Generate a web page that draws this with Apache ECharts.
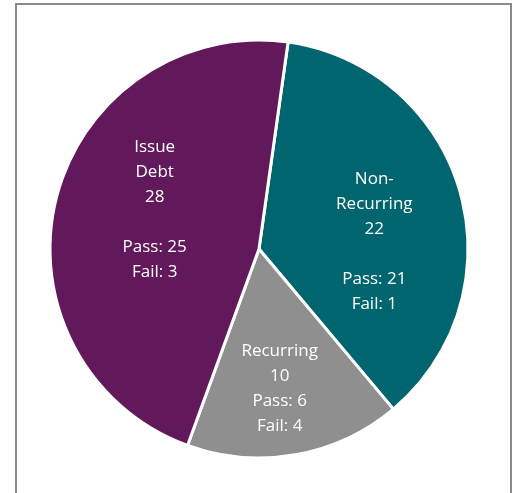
<!DOCTYPE html>
<html lang="en">

<head>
    <meta charset="UTF-8">
    <title>Pie</title>
    <script src="https://cdn.jsdelivr.net/npm/echarts@6/dist/echarts.min.js"></script>
    <style>
        body {
            margin: 0;
            background: #fff;
        }

        #frame {
            position: absolute;
            left: 15px;
            top: 3px;
            width: 493px;
            height: 520px;
            border: 2px solid #8a8a8a;
        }

        #app {
            position: absolute;
            left: 0;
            top: 0;
            width: 517px;
            height: 493px;
        }
    </style>
</head>

<body>
    <div id="frame"></div>
    <div id="app"></div>
    <script>
        let categories = ['Non-Recurring', 'Recurring', 'Issue Debt']
        let totals = [22, 10, 28]
        let passes = [21, 6, 25]
        let fails = [1, 4, 3]

        let colors = ['#00656e', '#8e8f8e', '#62195b']
        // label text per slice and nudge from the default inside position
        let labelText = [
            'Non-\nRecurring\n{t}\n\nPass: {p}\nFail: {f}',
            'Recurring\n{t}\nPass: {p}\nFail: {f}',
            'Issue\nDebt\n{t}\n\nPass: {p}\nFail: {f}'
        ]
        let labelOffset = [[12, 22], [2, 34], [0, -13]]

        let mCharts = echarts.init(document.getElementById('app'))
        let data = categories.map((name, i) => ({
            name: name,
            value: totals[i],
            itemStyle: { color: colors[i] },
            label: {
                formatter: labelText[i].replace('{t}', totals[i]).replace('{p}', passes[i]).replace('{f}', fails[i]),
                offset: labelOffset[i]
            }
        }))
        let option = {
            animation: false,
            series: [{
                type: 'pie',
                center: [259, 249],
                radius: 209,
                startAngle: 82,
                clockwise: true,
                itemStyle: {
                    borderColor: '#fff',
                    borderWidth: 3
                },
                label: {
                    position: 'inside',
                    color: '#fff',
                    fontFamily: 'Open Sans',
                    fontSize: 17,
                    lineHeight: 25,
                    align: 'center'
                },
                labelLine: { show: false },
                emphasis: { disabled: true },
                data: data
            }]
        }
        mCharts.setOption(option)
    </script>
</body>

</html>
